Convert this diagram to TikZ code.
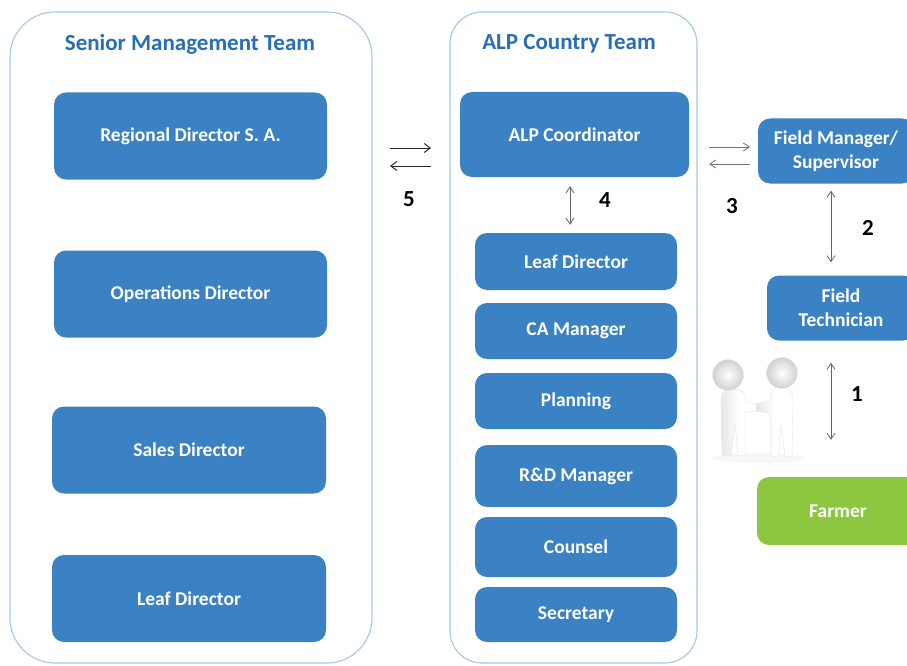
\documentclass[tikz,border=0pt]{standalone}
\usepackage{fontspec}
\setmainfont{Carlito}
\usetikzlibrary{arrows.meta,shapes.geometric}
\definecolor{boxblue}{RGB}{58,130,196}
\definecolor{farmgreen}{RGB}{141,198,63}
\definecolor{frameblue}{RGB}{160,202,234}
\definecolor{titleblue}{RGB}{40,110,180}
\tikzset{
  bluebox/.style={draw=none,fill=boxblue,rounded corners=12pt,text=white,font=\bfseries\fontsize{19.5}{24}\selectfont,align=center,inner sep=0pt},
  greenbox/.style={bluebox,fill=farmgreen},
  container/.style={draw=frameblue,line width=1.1pt,fill=white,inner sep=0pt},
  teamtitle/.style={text=titleblue,font=\bfseries\fontsize{23}{26}\selectfont,inner sep=0pt},
  numlabel/.style={text=black,font=\bfseries\fontsize{23}{26}\selectfont,inner sep=0pt},
  flow/.style={line width=1pt,draw=black!85,-{Straight Barb[length=6pt,width=9pt]}},
  flowgray/.style={line width=0.8pt,draw=black!55,-{Straight Barb[length=6pt,width=8pt]}},
  vflow/.style={line width=0.8pt,draw=black!60,{Straight Barb[length=6pt,width=8pt]}-{Straight Barb[length=6pt,width=8pt]}},
  person/.style={draw=black!10,line width=0.4pt,left color=black!10,right color=white,middle color=white},
  headball/.style={draw=black!8,line width=0.4pt,inner color=white,outer color=black!18}
}
\begin{document}
\begin{tikzpicture}[x=1pt,y=-1pt]
\useasboundingbox (0,0) rectangle (907,666);
\clip (0,0) rectangle (907,666);
\fill[white] (0,0) rectangle (907,666);

% containers
\node[container,rounded corners=45pt,minimum width=362pt,minimum height=651pt] (smt) at (191,337.5) {};
\node[container,rounded corners=32pt,minimum width=247pt,minimum height=651pt] (alp) at (573.5,337.5) {};
\node[teamtitle] (smttitle) at (190,44) {Senior Management Team};
\node[teamtitle] (alptitle) at (569,44) {ALP Country Team};

% senior management boxes
\node[bluebox,minimum width=273pt,minimum height=87pt] (rd) at (190.5,136) {Regional Director S. A.};
\node[bluebox,minimum width=273pt,minimum height=87pt] (od) at (190.5,294) {Operations Director};
\node[bluebox,minimum width=274pt,minimum height=87pt] (sd) at (189,450) {Sales Director};
\node[bluebox,minimum width=274pt,minimum height=87pt] (ld) at (189,598.5) {Leaf Director};

% ALP boxes
\node[bluebox,minimum width=229pt,minimum height=85pt] (coord) at (574.5,134.5) {ALP Coordinator};
\node[bluebox,minimum width=202pt,minimum height=57pt] (leaf) at (576,261.5) {Leaf Director};
\node[bluebox,minimum width=202pt,minimum height=56pt] (ca) at (576,331) {CA Manager};
\node[bluebox,minimum width=202pt,minimum height=56pt] (plan) at (576,401) {Planning};
\node[bluebox,minimum width=202pt,minimum height=62pt] (rnd) at (576,476) {R\&D Manager};
\node[bluebox,minimum width=202pt,minimum height=60pt] (coun) at (576,547) {Counsel};
\node[bluebox,minimum width=202pt,minimum height=55pt] (sec) at (576,614.5) {Secretary};

% field boxes
\node[bluebox,minimum width=156pt,minimum height=65pt] (fm) at (836,151) {Field Manager/\\Supervisor};
\node[bluebox,minimum width=148pt,minimum height=65pt] (ft) at (841,308) {Field\\Technician};
\node[greenbox,minimum width=162pt,minimum height=68pt] (farm) at (838,511) {Farmer};

% arrows 5
\coordinate (f5a) at (390,148);
\coordinate (t5a) at (431,148);
\coordinate (f5b) at (431,166);
\coordinate (t5b) at (390,166);
\draw[flow] (f5a) -- (t5a);
\draw[flow] (f5b) -- (t5b);
\node[numlabel] (n5) at (409,199) {5};

% arrows 3
\coordinate (f3a) at (709,147);
\coordinate (t3a) at (750,147);
\coordinate (f3b) at (750,164);
\coordinate (t3b) at (709,164);
\draw[flowgray] (f3a) -- (t3a);
\draw[flowgray] (f3b) -- (t3b);
\node[numlabel] (n3) at (732,206) {3};

% arrow 4
\draw[vflow,shorten <=9pt,shorten >=8pt] (coord.south -| 570,0) -- (leaf.north -| 570,0);
\node[numlabel] (n4) at (605,200) {4};

% arrow 2
\draw[vflow,shorten <=7pt,shorten >=13pt] (fm.south -| 831,0) -- (ft.north -| 831,0);
\node[numlabel] (n2) at (868,228) {2};

% arrow 1
\draw[vflow,shorten <=22pt,shorten >=37pt] (ft.south -| 831,0) -- (farm.north -| 831,0);
\node[numlabel] (n1) at (857,394) {1};

% handshake figure
\fill[black!3] (758,458) ellipse (46pt and 5pt);
% left person
\path[person] (722,455) -- (721,400) .. controls (721,391) and (726,389) .. (733,389)
  .. controls (741,389) and (745,393) .. (746,402) -- (758,404) -- (758,411) -- (745,412)
  -- (745,455) -- (738,456) -- (735,425) -- (731,456) -- cycle;
\path[headball] (728,375) circle (15.5pt);
% right person
\path[person] (792,456) -- (793,400) .. controls (793,391) and (788,387) .. (781,387)
  .. controls (774,387) and (770,391) .. (770,400) -- (756,404) -- (756,411) -- (770,413)
  -- (771,456) -- (778,457) -- (781,425) -- (785,457) -- cycle;
\path[headball] (782,373) circle (15.5pt);
\end{tikzpicture}
\end{document}
